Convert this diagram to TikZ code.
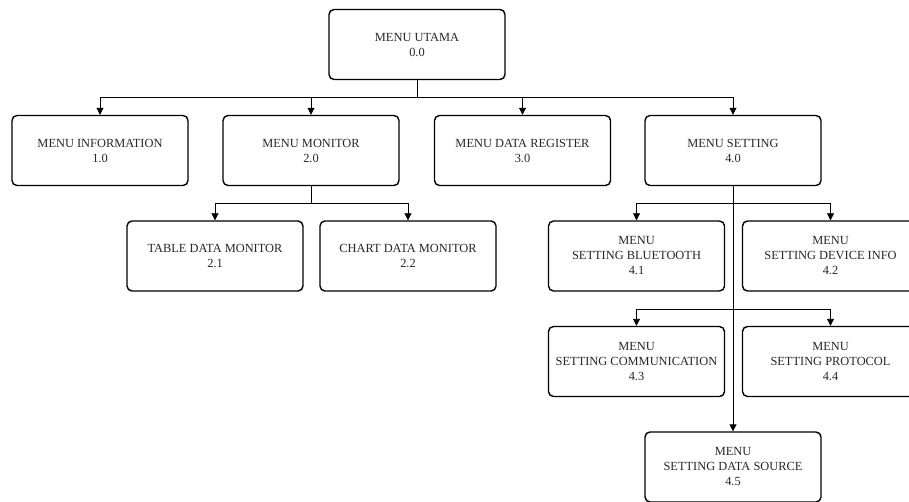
\documentclass[tikz,border=0pt]{standalone}
\usepackage{fontspec}
\setmainfont{Liberation Serif}
\usetikzlibrary{arrows.meta}
\begin{document}
\begin{tikzpicture}[x=1pt,y=-1pt,
  menubox/.style={draw=black, line width=1.4pt, rounded corners=5pt, minimum width=176pt, minimum height=70pt, align=center, inner sep=0pt,
    text=black!85, font=\fontsize{12.4pt}{15pt}\selectfont},
  link/.style={draw=black, line width=0.9pt},
  arr/.style={link, -{Triangle[length=7pt,width=7pt]}}]
\useasboundingbox (0,0) rectangle (909,502);
\node[menubox] (utama) at (417,44.5) {MENU UTAMA\\0.0};
\node[menubox] (info) at (100,150.5) {MENU INFORMATION\\1.0};
\node[menubox] (monitor) at (311,150.5) {MENU MONITOR\\2.0};
\node[menubox] (register) at (522.5,150.5) {MENU DATA REGISTER\\3.0};
\node[menubox] (setting) at (733,150.5) {MENU SETTING\\4.0};
\node[menubox] (table) at (215,256) {TABLE DATA MONITOR\\2.1};
\node[menubox] (chart) at (408,256) {CHART DATA MONITOR\\2.2};
\node[menubox] (bt) at (636.5,256) {MENU\\SETTING BLUETOOTH\\4.1};
\node[menubox] (dev) at (830.5,256) {MENU\\SETTING DEVICE INFO\\4.2};
\node[menubox] (comm) at (636.5,361.5) {MENU\\SETTING COMMUNICATION\\4.3};
\node[menubox] (proto) at (830.5,361.5) {MENU\\SETTING PROTOCOL\\4.4};
\node[menubox] (source) at (733,467) {MENU\\SETTING DATA SOURCE\\4.5};
\coordinate (j0) at (417,97);
\coordinate (j1) at (311,203);
\coordinate (j2) at (733,203);
\coordinate (j3) at (733,309);
\draw[link] (utama.south) -- (j0);
\draw[arr] (j0) -| (info.north);
\draw[arr] (j0) -| (monitor.north);
\draw[arr] (j0) -| (register.north);
\draw[arr] (j0) -| (setting.north);
\draw[link] (monitor.south) -- (j1);
\draw[arr] (j1) -| (table.north);
\draw[arr] (j1) -| (chart.north);
\draw[arr] (setting.south) -- (source.north);
\draw[arr] (j2) -| (bt.north);
\draw[arr] (j2) -| (dev.north);
\draw[arr] (j3) -| (comm.north);
\draw[arr] (j3) -| (proto.north);
\end{tikzpicture}
\end{document}
